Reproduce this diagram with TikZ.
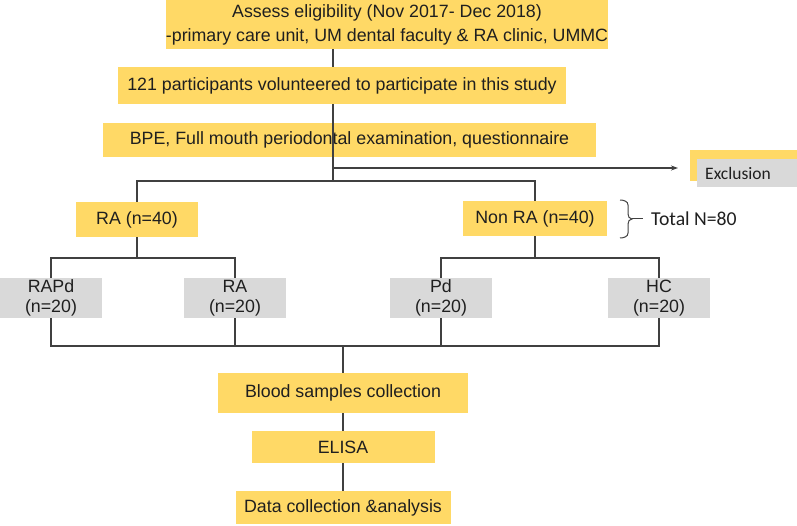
\documentclass[tikz,border=0pt]{standalone}
\usepackage{fontspec}
\setmainfont{Liberation Sans}
\newfontfamily\calibrifont{Carlito}
\usetikzlibrary{arrows.meta}
\definecolor{boxgold}{HTML}{FFD966}
\definecolor{boxgrey}{HTML}{D9D9D9}
\definecolor{linegrey}{HTML}{404040}
\begin{document}
\begin{tikzpicture}[x=1pt,y=-1pt,
    goldbox/.style={fill=boxgold,inner sep=0pt,align=center,text=black!88,font=\fontsize{17.8}{24}\selectfont},
    greybox/.style={fill=boxgrey,inner sep=0pt,minimum width=102pt,minimum height=40pt,align=center,text=black!88,font=\fontsize{17.8}{20}\selectfont},
    link/.style={draw=linegrey,line width=1.4pt}]
    \useasboundingbox (0,0) rectangle (797,526);
    \node[goldbox,minimum width=420pt,minimum height=49pt] (assess) at (387,24.5) {Assess eligibility (Nov 2017- Dec 2018)\\-primary care unit, UM dental faculty \& RA clinic, UMMC};
    \node[goldbox,minimum width=448pt,minimum height=37pt] (part) at (342,85.5) {121 participants volunteered to participate in this study};
    \node[goldbox,minimum width=493pt,minimum height=34pt] (bpe) at (349.5,140) {BPE, Full mouth periodontal examination, questionnaire};
    \node[fill=boxgold,inner sep=0pt,minimum width=107pt,minimum height=31pt] (exclback) at (743.5,165.5) {};
    \node[fill=boxgrey,inner xsep=8pt,inner ysep=0pt,text width=84pt,minimum height=28pt,anchor=west,text=black!88,font=\calibrifont\fontsize{17.5}{20}\selectfont] (exclusion) at (697,173) {Exclusion};
    \node[goldbox,minimum width=122pt,minimum height=35pt] (ra) at (137,219.5) {RA (n=40)};
    \node[goldbox,minimum width=144pt,minimum height=35pt] (nonra) at (535,218.5) {Non RA (n=40)};
    \node[anchor=west,inner xsep=8pt,inner ysep=0pt,text=black!88,font=\calibrifont\fontsize{19.7}{20}\selectfont] (total) at (643,219) {Total N=80};
    \node[greybox] (rapd) at (51,298) {RAPd\\(n=20)};
    \node[greybox] (ragrp) at (235,298) {RA\\(n=20)};
    \node[greybox] (pd) at (441,298) {Pd\\(n=20)};
    \node[greybox] (hc) at (659,298) {HC\\(n=20)};
    \node[goldbox,minimum width=250pt,minimum height=40pt] (blood) at (343,393) {Blood samples collection};
    \node[goldbox,minimum width=183pt,minimum height=32pt] (elisa) at (343,447) {ELISA};
    \node[goldbox,minimum width=215pt,minimum height=33pt] (data) at (343,507.5) {Data collection \&analysis};
    \coordinate (trunk) at (333,0);
    \coordinate (exjoin) at (333,168);
    \coordinate (exarrow) at (678,168);
    \coordinate (split) at (333,181);
    \coordinate (rajoin) at (137,258);
    \coordinate (nonrajoin) at (535,258);
    \coordinate (merge) at (343,346);
    \coordinate (bracetip) at (632,219);
    \draw[link] (trunk |- assess.south) -- (trunk |- part.north);
    \draw[link] (trunk |- part.south) -- (trunk |- bpe.south);
    \draw[link] (trunk |- bpe.south) -- (split);
    \draw[link,-{Stealth[length=7pt,width=5pt]}] (exjoin) -- (exarrow);
    \draw[link] (ra.north) |- (split) -| (nonra.north);
    \draw[link] (ra.south) -- (rajoin);
    \draw[link] (rapd.north) |- (rajoin) -| (ragrp.north);
    \draw[link] (nonra.south) -- (nonrajoin);
    \draw[link] (pd.north) |- (nonrajoin) -| (hc.north);
    \draw[link] (rapd.south) |- (merge) -| (hc.south);
    \draw[link] (ragrp.south) -- (ragrp.south |- merge);
    \draw[link] (pd.south) -- (pd.south |- merge);
    \draw[link] (merge) -- (blood.north);
    \draw[link] (blood) -- (elisa);
    \draw[link] (elisa) -- (data);
    \draw[draw=linegrey,line width=1pt] (620,200) to[out=0,in=90] (628,205) -- (628,214) to[out=-90,in=180] (bracetip) to[out=180,in=90] (628,224) -- (628,233) to[out=-90,in=0] (620,238);
    \draw[draw=linegrey,line width=1pt] (bracetip) -- (total.west);
\end{tikzpicture}
\end{document}
